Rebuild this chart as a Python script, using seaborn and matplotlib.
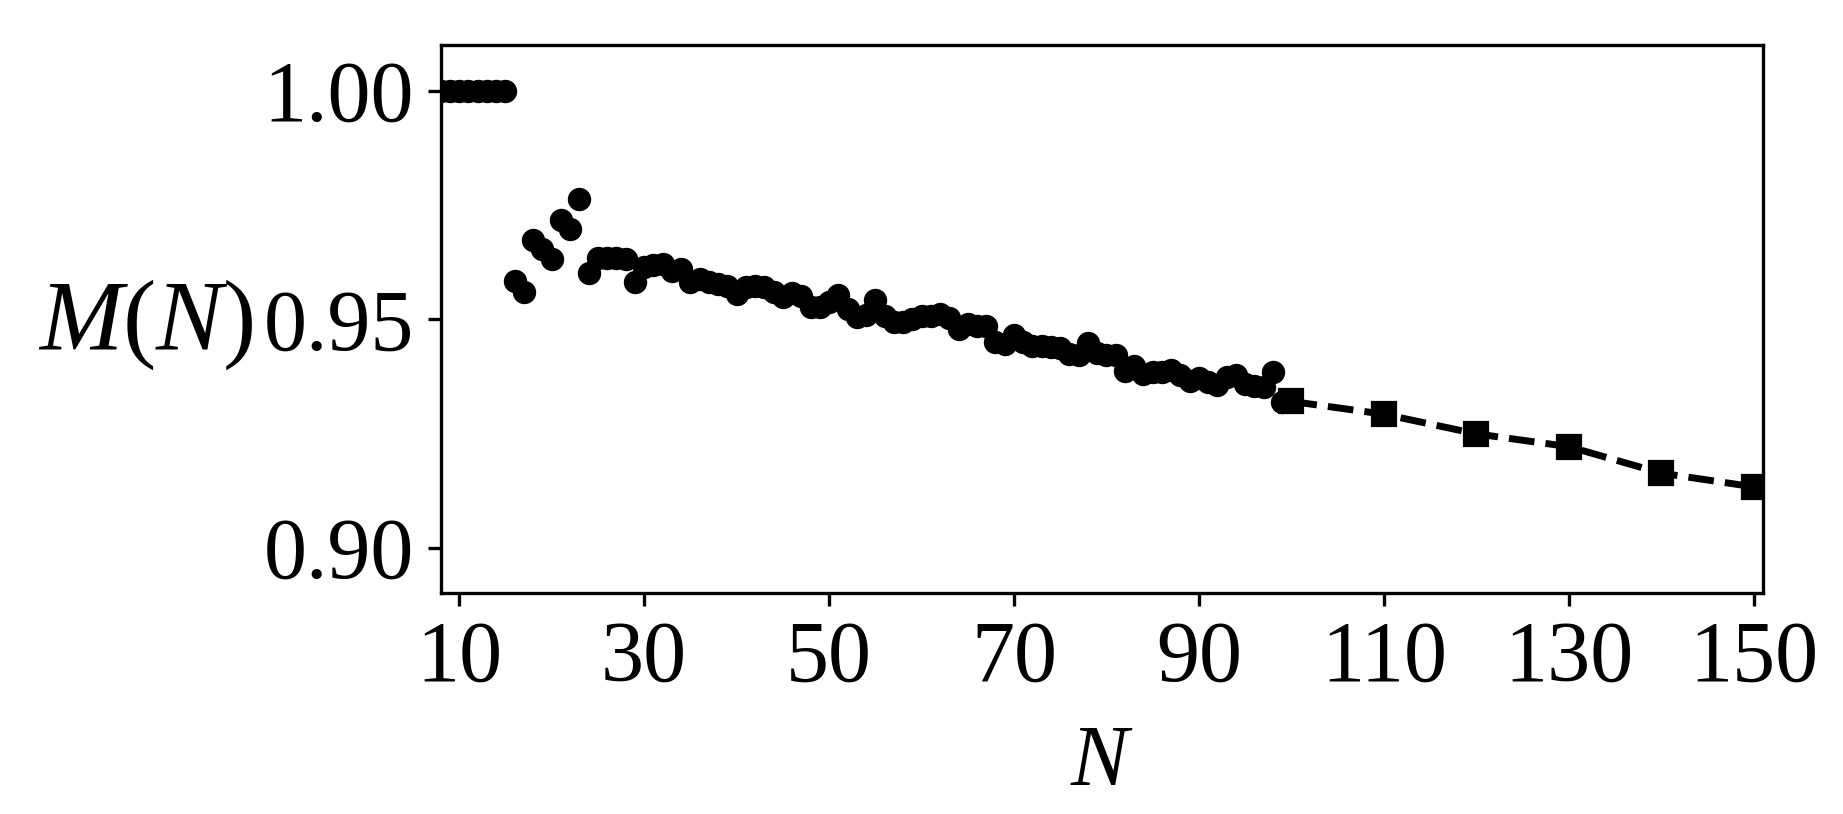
import numpy as np
import pandas as pd
import seaborn as sns
import matplotlib.pyplot as plt

sns.set_style('ticks')
plt.rcParams['font.family'] = ['Liberation Serif', 'DejaVu Serif']
plt.rcParams['mathtext.fontset'] = 'custom'
plt.rcParams['mathtext.rm'] = 'Liberation Serif'
plt.rcParams['mathtext.it'] = 'Liberation Serif:italic'
for key in ['text.color', 'axes.labelcolor', 'xtick.color', 'ytick.color']:
    plt.rcParams[key] = 'black'

### Data
N_dots = list(range(8, 100))
M_dots = [1.0] * 8 + [
    0.9583, 0.9560, 0.9674, 0.9654, 0.9632, 0.9716, 0.9698, 0.9763,  # 16-23
    0.9601, 0.9634, 0.9633, 0.9633, 0.9632, 0.9581, 0.9614, 0.9619,  # 24-31
    0.9621, 0.9606, 0.9610, 0.9581, 0.9588, 0.9581, 0.9577, 0.9572,  # 32-39
    0.9555, 0.9570, 0.9572, 0.9570, 0.9560, 0.9548, 0.9558, 0.9551,  # 40-47
    0.9526, 0.9527, 0.9537, 0.9553, 0.9522, 0.9504, 0.9510, 0.9543,  # 48-55
    0.9508, 0.9493, 0.9493, 0.9501, 0.9508, 0.9508, 0.9511, 0.9502,  # 56-63
    0.9478, 0.9489, 0.9486, 0.9484, 0.9449, 0.9446, 0.9465, 0.9450,  # 64-71
    0.9442, 0.9441, 0.9439, 0.9436, 0.9424, 0.9421, 0.9447, 0.9425,  # 72-79
    0.9422, 0.9421, 0.9387, 0.9398, 0.9381, 0.9384, 0.9384, 0.9388,  # 80-87
    0.9377, 0.9365, 0.9371, 0.9362, 0.9357, 0.9374, 0.9377, 0.9358,  # 88-95
    0.9354, 0.9352, 0.9385, 0.9318,                                  # 96-99
]
N_sq = [100, 110, 120, 130, 140, 150]
M_sq = [0.9320, 0.9292, 0.9249, 0.9221, 0.9163, 0.9133]

x_ticks = [10, 30, 50, 70, 90, 110, 130, 150]
y_ticks = [0.90, 0.95, 1.00]

dots = pd.DataFrame({'N': N_dots, 'M': M_dots})
squares = pd.DataFrame({'N': N_sq, 'M': M_sq})

fontsize = 31

fig = plt.figure(figsize=(9.215, 4.07), dpi=200)
ax = fig.add_axes([0.2391, 0.2711, 0.7175, 0.6736])

for m in ['top', 'bottom', 'left', 'right']:
    ax.spines[m].set_linewidth(1.2)
    ax.spines[m].set_color('black')

sns.scatterplot(data=dots, x='N', y='M', color='black', s=58,
                edgecolor='black', linewidth=0.8, ax=ax, zorder=3)
sns.lineplot(data=squares, x='N', y='M', color='black', marker='s',
             markersize=8.5, markeredgecolor='black', markeredgewidth=0.8,
             linestyle='--', linewidth=2.5, ax=ax, zorder=4)

ax.set_xlim(8, 151)
ax.set_ylim(0.89, 1.01)
ax.set_xticks(x_ticks)
ax.set_yticks(y_ticks)
ax.set_yticklabels([f'{v:.2f}' for v in y_ticks])
ax.tick_params(axis='both', labelsize=fontsize, length=4.6, width=1.2,
               pad=5, color='black')

ax.set_xlabel(r'$N$', fontsize=31)
ax.xaxis.set_label_coords(0.5, -0.24)
ax.xaxis.label.set_va('top')
ax.set_ylabel(r'$M(N)$', fontsize=36, rotation=0, ha='right', va='center')
ax.yaxis.set_label_coords(-0.142, 0.49)

fig.savefig('out.png', dpi=200)
